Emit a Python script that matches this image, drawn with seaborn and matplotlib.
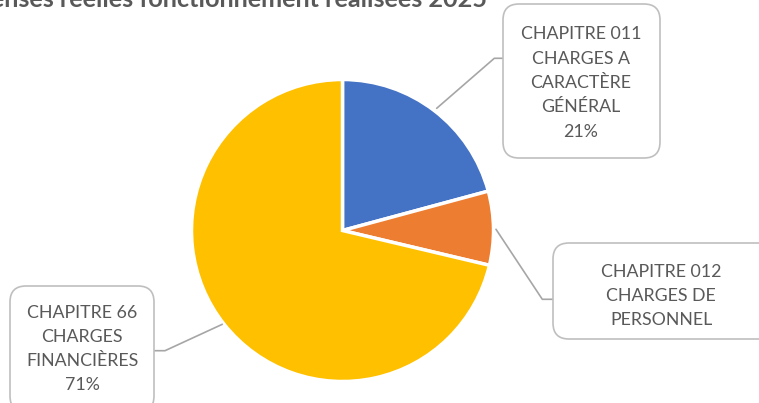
import matplotlib
matplotlib.use("Agg")
import matplotlib.pyplot as plt
from matplotlib.patches import FancyBboxPatch
import seaborn as sns

# données
categories = ["CHAPITRE 011\nCHARGES A\nCARACTÈRE\nGÉNÉRAL\n21%",
              "CHAPITRE 012\nCHARGES DE\nPERSONNEL",
              "CHAPITRE 66\nCHARGES\nFINANCIÈRES\n71%"]
values = [20.8, 7.9, 71.3]
colors = ["#4472C4", "#ED7D31", "#FFC000"]
title = "Dépenses réelles fonctionnement réalisées 2025"

W, H = 759, 403
TEXT_COLOR = "#595959"

sns.set_theme(style="white")
plt.rcParams['font.family'] = ['Lato', 'DejaVu Sans']

fig = plt.figure(figsize=(W / 100, H / 100), dpi=100)
ax = fig.add_axes([0, 0, 1, 1])


def py(y):
    # coordonnées pixel (origine en haut) -> données
    return H - y


# camembert
ax.pie(values, colors=colors, startangle=90, counterclock=False,
       center=(342.5, py(230.5)), radius=151, frame=True,
       wedgeprops=dict(edgecolor="white", linewidth=2.5))
ax.set_xlim(0, W)
ax.set_ylim(0, H)
ax.set_aspect("equal")
ax.axis("off")

# étiquettes : (boîte x0, y0, x1, y1), centre texte, ligne de rappel
labels = [
    dict(box=(503, 4, 660, 158), txt=(581, 83),
         leader=[(436.7, 108.3), (494.3, 58.3), (503, 58.3)]),
    dict(box=(553, 243, 775, 339), txt=(661, 296),
         leader=[(496, 229.3), (542.3, 299.3), (553, 299.3)]),
    dict(box=(10, 286, 154, 412), txt=(82, 349),
         leader=[(222.3, 324.3), (165, 350.7), (154, 350.7)]),
]

for lab, text in zip(labels, categories):
    x0, y0, x1, y1 = lab["box"]
    patch = FancyBboxPatch((x0, py(y1)), x1 - x0, y1 - y0,
                           boxstyle="round,pad=0,rounding_size=16",
                           facecolor="white", edgecolor="#BFBFBF",
                           linewidth=1.2, zorder=3)
    ax.add_patch(patch)
    xs = [p[0] for p in lab["leader"]]
    ys = [py(p[1]) for p in lab["leader"]]
    ax.plot(xs, ys, color="#A6A6A6", linewidth=1.2, zorder=2)
    tx, ty = lab["txt"]
    ax.text(tx, py(ty), text, ha="center", va="center", fontsize=12.8,
            color=TEXT_COLOR, linespacing=1.64, zorder=4)

# titre (coupé en haut comme l'original)
ax.text(487, py(7), title, ha="right", va="baseline", fontsize=18.2,
        fontweight="bold", color=TEXT_COLOR)

fig.savefig("out.png", dpi=100)
